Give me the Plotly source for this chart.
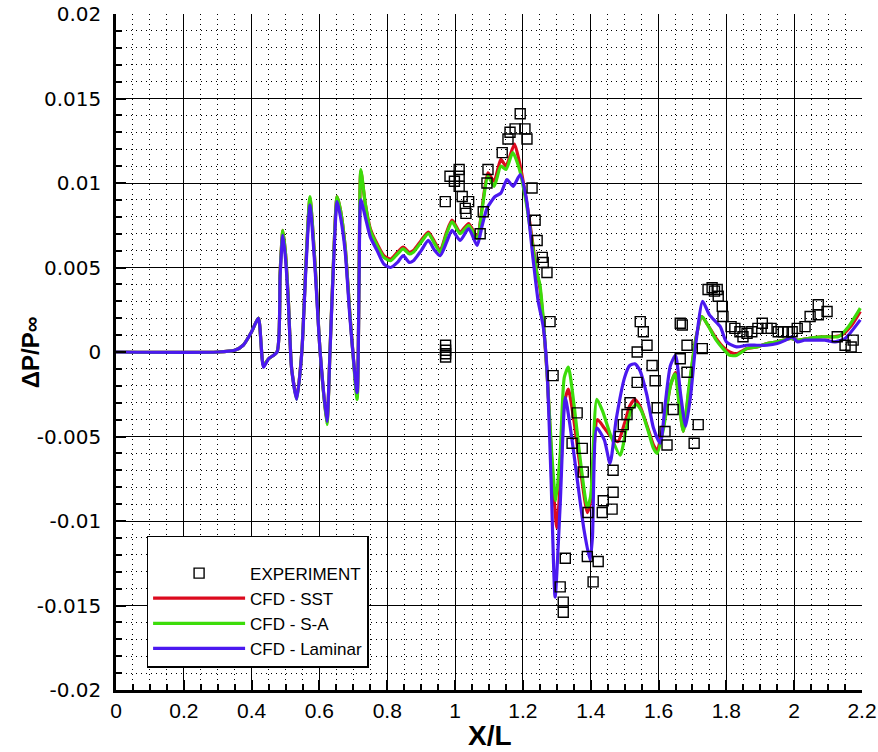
import plotly.graph_objects as go

# ---------------- data ----------------
exp_x = [0.972, 0.972, 0.972, 0.972,
         0.971, 0.985, 0.998, 1.012, 1.012, 1.012, 1.021, 1.030, 1.040, 1.032,
         1.074, 1.083, 1.094, 1.097, 1.139, 1.156, 1.162, 1.177, 1.192, 1.206,
         1.212, 1.227, 1.236, 1.242, 1.257, 1.260, 1.271, 1.280, 1.289, 1.310,
         1.319, 1.319, 1.325, 1.345, 1.360, 1.375, 1.378, 1.392, 1.390, 1.407,
         1.422, 1.434, 1.437, 1.463, 1.466, 1.466, 1.487, 1.496, 1.507, 1.516,
         1.537, 1.537, 1.546, 1.555, 1.566, 1.581, 1.590, 1.596, 1.619, 1.625,
         1.643, 1.664, 1.670, 1.684, 1.664, 1.684, 1.705, 1.717, 1.729, 1.746,
         1.758, 1.765, 1.773, 1.776, 1.788, 1.790, 1.814, 1.825, 1.840, 1.849,
         1.861, 1.875, 1.893, 1.906, 1.920, 1.932, 1.953, 1.968, 1.981, 1.994,
         2.009, 2.032, 2.047, 2.071, 2.071, 2.097, 2.127, 2.150, 2.174, 2.168]
exp_y = [0.0004, 0.0001, -0.0001, -0.0003,
         0.0089, 0.0104, 0.0101, 0.0108, 0.0104, 0.0098, 0.0092, 0.0085, 0.0089, 0.0082,
         0.0070, 0.0083, 0.0100, 0.0108, 0.0118, 0.0126, 0.0130, 0.0132, 0.0141, 0.0132,
         0.0126, 0.0097, 0.0078, 0.0066, 0.0056, 0.0053, 0.0047, 0.0018, -0.0014, -0.0139,
         -0.0148, -0.0154, -0.0122, -0.0054, -0.0036, -0.0057, -0.0071, -0.0095, -0.0121, -0.0136,
         -0.0124, -0.0095, -0.0088, -0.0093, -0.0083, -0.0070, -0.0050, -0.0043, -0.0037, -0.0030,
         -0.0018, 0.0000, 0.0018, 0.0012, 0.0004, -0.0008, -0.0017, -0.0033, -0.0047, -0.0055,
         -0.0034, 0.0017, 0.0016, 0.0004, -0.0004, -0.0012, -0.0054, -0.0043, 0.0002, 0.0037,
         0.0038, 0.0036, 0.0037, 0.0033, 0.0027, 0.0021, 0.0015, 0.0014, 0.0012, 0.0009,
         0.0011, 0.0012, 0.0014, 0.0017, 0.0014, 0.0014, 0.0012, 0.0012, 0.0012, 0.0012,
         0.0014, 0.0015, 0.0021, 0.0028, 0.0022, 0.0024, 0.0009, 0.0004, 0.0007, 0.0003]

# shared x stations of the oscillating front part (X/L 0 .. 0.75)
front_x = [0, 0.30, 0.35, 0.375, 0.40, 0.42, 0.435, 0.45, 0.475, 0.484, 0.492, 0.50,
           0.508, 0.518, 0.533, 0.548, 0.56, 0.572, 0.587, 0.602, 0.622, 0.631, 0.641,
           0.652, 0.662, 0.676, 0.69, 0.711, 0.717, 0.722, 0.735, 0.75]

sst_x = front_x + [
    0.77, 0.79, 0.81, 0.83, 0.847, 0.865, 0.877, 0.90, 0.921, 0.94, 0.956, 0.975,
    0.991, 1.015, 1.04, 1.065, 1.08, 1.097, 1.115, 1.135, 1.15, 1.175, 1.19, 1.21,
    1.225, 1.24, 1.25, 1.26, 1.272, 1.285, 1.30, 1.312, 1.322, 1.334, 1.35, 1.37,
    1.39, 1.40, 1.42, 1.44, 1.46, 1.48, 1.50, 1.515, 1.53, 1.545, 1.565, 1.585, 1.595,
    1.615, 1.635, 1.65, 1.66, 1.673, 1.69, 1.71, 1.728, 1.745, 1.77, 1.79, 1.81, 1.83,
    1.86, 1.89, 1.92, 1.95, 1.99, 2.01, 2.04, 2.08, 2.11, 2.14, 2.17, 2.195]
sst_y = [0, 0, 0.0001, 0.0004, 0.0012, 0.0020, -0.0008, -0.0004, 0.0000, 0.0047, 0.0072,
         0.0058, 0.0032, -0.0010, -0.0027, 0.0000, 0.0052, 0.0091, 0.0052, 0.0000, -0.0042,
         0.0000, 0.0052, 0.0092, 0.0084, 0.0062, 0.0022, -0.0026, 0.0050, 0.0107, 0.0088,
         0.0073,
         0.0064, 0.0057, 0.0055, 0.0059, 0.0062, 0.0059, 0.0060, 0.0066, 0.0071, 0.0065,
         0.0060, 0.0071, 0.0078, 0.0071, 0.0076, 0.0068, 0.0086, 0.0106, 0.0101, 0.0114,
         0.0110, 0.0123, 0.0112, 0.0090, 0.0070, 0.0048, 0.0038, 0.0018, -0.0015, -0.0065,
         -0.0104, -0.0070, -0.0030, -0.0022, -0.0040, -0.0070, -0.0095, -0.0088, -0.0040,
         -0.0045, -0.0050, -0.0053, -0.0042, -0.0032, -0.0028, -0.0032, -0.0043, -0.0055,
         -0.0058, -0.0043, -0.0020, -0.0012, -0.0028, -0.0047, -0.0022, 0.0008, 0.0021,
         0.0016, 0.0008, 0.0003, 0.0000, -0.0001, 0.0002, 0.0003, 0.0005, 0.0006, 0.0008,
         0.0007, 0.0008, 0.0009, 0.0009, 0.0010, 0.0016, 0.0024]

sa_x = front_x + [
    0.77, 0.79, 0.81, 0.83, 0.847, 0.865, 0.877, 0.90, 0.921, 0.94, 0.956, 0.975,
    0.991, 1.015, 1.04, 1.065, 1.08, 1.097, 1.115, 1.135, 1.15, 1.17, 1.19, 1.21,
    1.225, 1.24, 1.25, 1.26, 1.272, 1.285, 1.297, 1.31, 1.322, 1.334, 1.35, 1.37,
    1.39, 1.40, 1.418, 1.435, 1.46, 1.487, 1.505, 1.52, 1.535, 1.55, 1.57, 1.585,
    1.596, 1.615, 1.635, 1.649, 1.66, 1.673, 1.69, 1.71, 1.728, 1.745, 1.77, 1.79,
    1.81, 1.83, 1.86, 1.89, 1.92, 1.95, 1.99, 2.01, 2.04, 2.08, 2.11, 2.13, 2.16, 2.195]
sa_y = [0, 0, 0.0001, 0.0004, 0.0012, 0.0020, -0.0008, -0.0004, 0.0000, 0.0047, 0.0072,
        0.0058, 0.0032, -0.0010, -0.0028, 0.0000, 0.0052, 0.0092, 0.0052, 0.0000, -0.0043,
        0.0000, 0.0052, 0.0092, 0.0084, 0.0062, 0.0022, -0.0028, 0.0050, 0.0108, 0.0088,
        0.0072,
        0.0063, 0.0056, 0.0054, 0.0058, 0.0061, 0.0058, 0.0059, 0.0065, 0.0070, 0.0064,
        0.0059, 0.0070, 0.0077, 0.0070, 0.0075, 0.0067, 0.0085, 0.0104, 0.0098, 0.0110,
        0.0108, 0.0118, 0.0108, 0.0088, 0.0068, 0.0048, 0.0040, 0.0020, -0.0015, -0.0060,
        -0.0088, -0.0060, -0.0015, -0.0009, -0.0030, -0.0065, -0.0092, -0.0085, -0.0028,
        -0.0035, -0.0050, -0.0061, -0.0045, -0.0034, -0.0031, -0.0035, -0.0047, -0.0057,
        -0.0060, -0.0045, -0.0020, -0.0013, -0.0030, -0.0047, -0.0020, 0.0008, 0.0021,
        0.0016, 0.0007, 0.0002, -0.0002, -0.0002, 0.0002, 0.0003, 0.0005, 0.0006, 0.0008,
        0.0007, 0.0008, 0.0009, 0.0009, 0.0009, 0.0015, 0.0026]

lam_x = front_x + [
    0.77, 0.79, 0.81, 0.83, 0.847, 0.865, 0.877, 0.90, 0.921, 0.94, 0.956, 0.975,
    0.991, 1.015, 1.04, 1.065, 1.08, 1.094, 1.118, 1.135, 1.153, 1.171, 1.192, 1.21,
    1.23, 1.245, 1.26, 1.271, 1.283, 1.295, 1.31, 1.325, 1.34, 1.36, 1.38, 1.398,
    1.405, 1.418, 1.44, 1.457, 1.475, 1.50, 1.515, 1.53, 1.545, 1.565, 1.585, 1.605,
    1.62, 1.635, 1.65, 1.665, 1.68, 1.695, 1.71, 1.73, 1.75, 1.782, 1.80, 1.83, 1.86,
    1.89, 1.92, 1.95, 1.975, 1.994, 2.01, 2.03, 2.06, 2.09, 2.12, 2.15, 2.195]
lam_y = [0, 0, 0.0001, 0.0004, 0.0012, 0.0020, -0.0009, -0.0004, 0.0000, 0.0045, 0.0069,
         0.0055, 0.0030, -0.0010, -0.0028, 0.0000, 0.0049, 0.0087, 0.0049, 0.0000, -0.0041,
         0.0000, 0.0049, 0.0089, 0.0080, 0.0059, 0.0020, -0.0024, 0.0045, 0.0090, 0.0080,
         0.0068,
         0.0060, 0.0052, 0.0050, 0.0053, 0.0057, 0.0053, 0.0054, 0.0060, 0.0066, 0.0060,
         0.0057, 0.0065, 0.0072, 0.0066, 0.0073, 0.0063, 0.0075, 0.0085, 0.0092, 0.0094,
         0.0102, 0.0098, 0.0105, 0.0091, 0.0055, 0.0030, 0.0015, -0.0010, -0.0075, -0.0145,
         -0.0090, -0.0027, -0.0045, -0.0075, -0.0105, -0.0123, -0.0110, -0.0045, -0.0052,
         -0.0066, -0.0040, -0.0015, -0.0008, -0.0007, -0.0011, -0.0025, -0.0045, -0.0054,
         -0.0030, -0.0008, -0.0002, -0.0025, -0.0044, -0.0025, 0.0005, 0.0030, 0.0022,
         0.0015, 0.0006, 0.0003, 0.0004, 0.0004, 0.0004, 0.0005, 0.0007, 0.0009, 0.0006,
         0.0007, 0.0007, 0.0007, 0.0006, 0.0008, 0.0019]

x_ticks = [0, 0.2, 0.4, 0.6, 0.8, 1.0, 1.2, 1.4, 1.6, 1.8, 2.0, 2.2]
x_ticklabels = ["0", "0.2", "0.4", "0.6", "0.8", "1", "1.2", "1.4", "1.6", "1.8", "2", "2.2"]
y_ticks = [0.02, 0.015, 0.01, 0.005, 0, -0.005, -0.01, -0.015, -0.02]
y_ticklabels = ["0.02", "0.015", "0.01", "0.005", "0", "-0.005", "-0.01", "-0.015", "-0.02"]

# ---------------- figure ----------------
fig = go.Figure()
line_kw = dict(width=3.2, shape="spline", smoothing=0.6)
fig.add_trace(go.Scatter(x=sst_x, y=sst_y, mode="lines", name="CFD - SST",
                         line=dict(color="#DC0A1E", **line_kw), legendrank=2))
fig.add_trace(go.Scatter(x=sa_x, y=sa_y, mode="lines", name="CFD - S-A",
                         line=dict(color="#3CDC0A", **line_kw), legendrank=3))
fig.add_trace(go.Scatter(x=lam_x, y=lam_y, mode="lines", name="CFD - Laminar",
                         line=dict(color="#4B19F0", **line_kw), legendrank=4))
fig.add_trace(go.Scatter(x=exp_x, y=exp_y, mode="markers", name="EXPERIMENT",
                         marker=dict(symbol="square-open", size=10, color="black",
                                     line=dict(width=1.4, color="black")),
                         legendrank=1))

axis_common = dict(
    automargin=False,
    showline=True, linecolor="black", linewidth=2.5,
    showgrid=True, gridcolor="black", gridwidth=1.2,
    zeroline=False, ticks="inside", tickcolor="black", tickwidth=1.5, ticklen=10,
)

fig.update_layout(
    width=878, height=752,
    margin=dict(l=116, r=16, t=14, b=62),
    paper_bgcolor="white", plot_bgcolor="white",
    showlegend=True,
    legend=dict(x=0.041, y=0.228, xanchor="left", yanchor="top",
                bgcolor="white", bordercolor="black", borderwidth=1.5,
                font=dict(family="Liberation Sans, Arial, sans-serif", size=17, color="black"),
                title=dict(text=" ", font=dict(size=14)),
                itemwidth=92, tracegroupgap=0),
    xaxis=dict(range=[0, 2.2], tickvals=x_ticks, ticktext=x_ticklabels,
               tickfont=dict(family="Liberation Sans Narrow, Arial Narrow, Liberation Sans, sans-serif",
                             size=21, color="black"),
               ticklabelstandoff=0,
               minor=dict(dtick=0.05, showgrid=True, gridcolor="black", gridwidth=1,
                          griddash="1px,4px", ticks="inside", ticklen=6, tickcolor="black"),
               **axis_common),
    yaxis=dict(range=[-0.02, 0.02], tickvals=y_ticks, ticktext=y_ticklabels,
               tickfont=dict(family="DejaVu Sans, sans-serif", size=20, color="black"),
               ticklabelstandoff=8,
               minor=dict(dtick=0.001, showgrid=True, gridcolor="black", gridwidth=1,
                          griddash="1px,4px", ticks="inside", ticklen=6, tickcolor="black"),
               **axis_common),
    annotations=[
        dict(text="<b>X/L</b>", xref="paper", yref="paper", x=0.501, y=-0.0675,
             xanchor="center", yanchor="middle", showarrow=False,
             font=dict(family="Liberation Sans Narrow, Arial Narrow, Liberation Sans, sans-serif",
                       size=28, color="black")),
        dict(text="<b>ΔP/P<span style='font-size:22px'>∞</span></b>", xref="paper", yref="paper",
             x=-0.115, y=0.5, xanchor="center", yanchor="middle", showarrow=False, textangle=-90,
             font=dict(family="Liberation Sans, Arial, sans-serif", size=24, color="black")),
    ],
)

fig.write_html("out.html")
